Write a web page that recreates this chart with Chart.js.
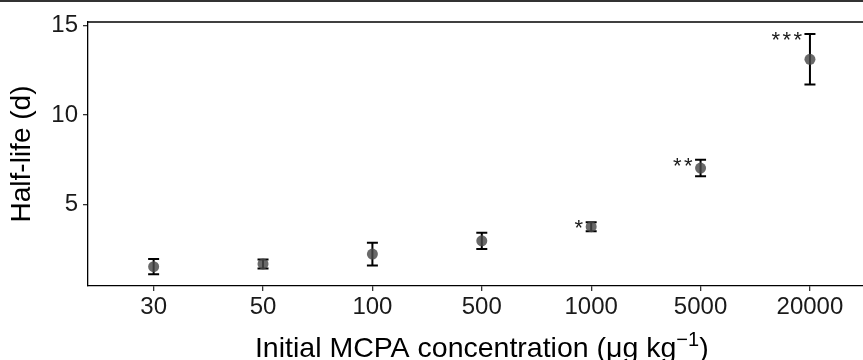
<!DOCTYPE html>
<html>
<head>
<meta charset="utf-8">
<script src="https://cdn.jsdelivr.net/npm/chart.js@4.4.1/dist/chart.umd.min.js"></script>
<style>
    html, body { margin: 0; padding: 0; background: #fff; overflow: hidden; }
    #wrap { width: 863px; height: 360px; position: relative; }
</style>
</head>
<body>
<div id="wrap"><canvas id="chart"></canvas></div>
<script>
// Half-life of MCPA vs initial concentration
const concentrations = ['30', '50', '100', '500', '1000', '5000', '20000'];
const halfLife = [1.54, 1.69, 2.24, 2.98, 3.77, 7.04, 13.11];
const halfLifeSd = [0.42, 0.25, 0.63, 0.45, 0.25, 0.46, 1.41];
const significance = ['', '', '', '', '*', '**', '***'];
const yTicks = [5, 10, 15];

const FONT = "'Liberation Sans', Arial, sans-serif";

// Error bars, drawn under the points
const errorBars = {
    id: 'errorBars',
    beforeDatasetsDraw(chart) {
        const ctx = chart.ctx;
        const y = chart.scales.y;
        const meta = chart.getDatasetMeta(0);
        ctx.save();
        ctx.strokeStyle = '#000';
        ctx.lineWidth = 2;
        meta.data.forEach((pt, i) => {
            const top = y.getPixelForValue(halfLife[i] + halfLifeSd[i]);
            const bottom = y.getPixelForValue(halfLife[i] - halfLifeSd[i]);
            ctx.beginPath();
            ctx.moveTo(pt.x, top);
            ctx.lineTo(pt.x, bottom);
            ctx.moveTo(pt.x - 5.5, top);
            ctx.lineTo(pt.x + 5.5, top);
            ctx.moveTo(pt.x - 5.5, bottom);
            ctx.lineTo(pt.x + 5.5, bottom);
            ctx.stroke();
        });
        ctx.restore();
    },
    afterDatasetsDraw(chart) {
        const ctx = chart.ctx;
        const y = chart.scales.y;
        const meta = chart.getDatasetMeta(0);
        ctx.save();
        ctx.fillStyle = '#1a1a1a';
        ctx.font = '22px ' + FONT;
        ctx.textAlign = 'right';
        ctx.textBaseline = 'alphabetic';
        meta.data.forEach((pt, i) => {
            const stars = significance[i];
            const top = y.getPixelForValue(halfLife[i] + halfLifeSd[i]);
            // stars are spaced out a little, one by one
            for (let k = 0; k < stars.length; k++) {
                ctx.fillText('*', pt.x - 8 - k * 11, top + 13);
            }
        });
        ctx.restore();
    }
};

// Frame bits and x title with a real superscript
const decorations = {
    id: 'decorations',
    afterDraw(chart) {
        const ctx = chart.ctx;
        const area = chart.chartArea;
        const x = chart.scales.x;
        ctx.save();
        // thin rule along the very top
        ctx.fillStyle = '#333';
        ctx.fillRect(0, 0, chart.width, 2);
        // plot top border
        ctx.strokeStyle = '#000';
        ctx.lineWidth = 1.3;
        ctx.beginPath();
        ctx.moveTo(area.left, area.top);
        ctx.lineTo(area.right, area.top);
        ctx.stroke();

        // x axis title
        const main = 'Initial MCPA concentration (\u03bcg kg';
        const sup = '\u22121';
        const close = ')';
        ctx.fillStyle = '#000';
        ctx.textBaseline = 'alphabetic';
        ctx.textAlign = 'left';
        ctx.font = '28.5px ' + FONT;
        const wMain = ctx.measureText(main).width;
        const wClose = ctx.measureText(close).width;
        ctx.font = '20px ' + FONT;
        const wSup = ctx.measureText(sup).width;
        const total = wMain + wSup + wClose;
        const cx = x.getPixelForValue(3);
        let tx = cx - total / 2;
        const base = 357;
        ctx.font = '28.5px ' + FONT;
        ctx.fillText(main, tx, base);
        tx += wMain;
        ctx.font = '20px ' + FONT;
        ctx.fillText(sup, tx, base - 11);
        tx += wSup;
        ctx.font = '28.5px ' + FONT;
        ctx.fillText(close, tx, base);
        ctx.restore();
    }
};

const ctx = document.getElementById('chart').getContext('2d');
new Chart(ctx, {
    type: 'scatter',
    data: {
        datasets: [{
            label: 'Half-life',
            data: concentrations.map((c, i) => ({ x: i, y: halfLife[i] })),
            backgroundColor: 'rgba(72, 72, 72, 0.82)',
            borderWidth: 0,
            pointRadius: 5.5,
            pointHoverRadius: 5.5
        }]
    },
    options: {
        responsive: true,
        maintainAspectRatio: false,
        animation: false,
        layout: { autoPadding: false, padding: { top: 22, right: 0, left: 0, bottom: 0 } },
        plugins: {
            legend: { display: false },
            tooltip: { enabled: false }
        },
        scales: {
            x: {
                type: 'linear',
                min: -0.6,
                max: 6.485,
                afterBuildTicks: scale => {
                    scale.ticks = concentrations.map((c, i) => ({ value: i }));
                },
                afterFit: scale => {
                    scale.height = 74;
                    scale.paddingLeft = 0;
                    scale.paddingRight = 0;
                },
                ticks: {
                    callback: v => concentrations[v],
                    color: '#1a1a1a',
                    font: { family: FONT, size: 24 },
                    padding: 2,
                    maxRotation: 0,
                    autoSkip: false
                },
                grid: {
                    drawOnChartArea: false,
                    drawTicks: true,
                    tickLength: 5,
                    color: '#333',
                    lineWidth: 1.3
                },
                border: { display: true, color: '#000', width: 1.3 }
            },
            y: {
                min: 0.46,
                max: 15.19,
                afterBuildTicks: scale => {
                    scale.ticks = yTicks.map(v => ({ value: v }));
                },
                afterFit: scale => { scale.width = 88; },
                ticks: {
                    color: '#1a1a1a',
                    font: { family: FONT, size: 24 },
                    padding: 5
                },
                grid: {
                    drawOnChartArea: false,
                    drawTicks: true,
                    tickLength: 5,
                    color: '#333',
                    lineWidth: 1.3
                },
                border: { display: true, color: '#000', width: 1.3 },
                title: {
                    display: true,
                    text: 'Half-life (d)',
                    color: '#000',
                    font: { family: FONT, size: 28 },
                    padding: { top: 5, bottom: 0 }
                }
            }
        }
    },
    plugins: [errorBars, decorations]
});
</script>
</body>
</html>
